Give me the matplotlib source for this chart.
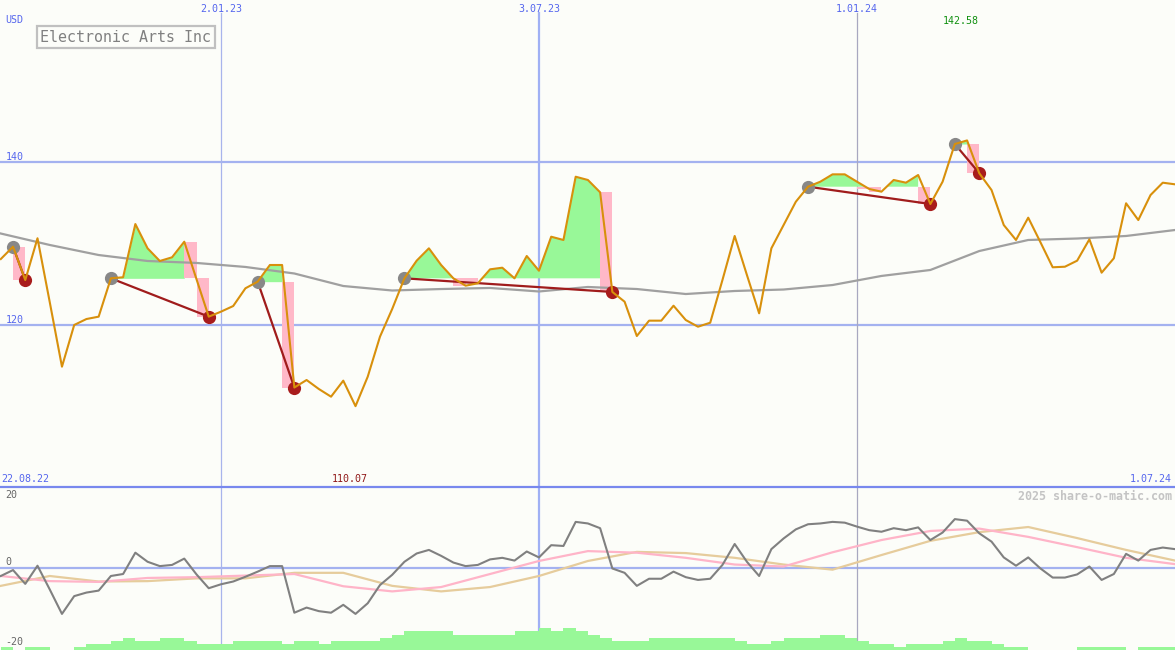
import matplotlib
matplotlib.use("Agg")
import matplotlib.pyplot as plt
import matplotlib.dates as mdates
import matplotlib.transforms as mtransforms
from matplotlib.lines import Line2D
import numpy as np
import pandas as pd

# weekly closes, Electronic Arts, from 29.08.22 to 1.07.24
weeks = pd.date_range("2022-08-29", periods=97, freq="7D")
price = [128.07, 129.58, 125.50, 130.61, 122.81, 114.90, 120.00, 120.73, 121.02, 125.71,
         125.84, 132.35, 129.38, 127.83, 128.28, 130.19, 125.60, 121.02, 121.63, 122.32,
         124.49, 125.30, 127.34, 127.34, 112.35, 113.27, 112.17, 111.23, 113.19, 110.07,
         113.68, 118.57, 121.96, 125.71, 127.87, 129.38, 127.34, 125.71, 124.81, 125.10,
         126.81, 127.01, 125.71, 128.44, 126.64, 130.80, 130.40, 138.14, 137.74, 136.23,
         124.04, 122.85, 118.65, 120.53, 120.53, 122.36, 120.61, 119.79, 120.28, 125.50,
         130.89, 126.12, 121.43, 129.38, 132.23, 135.08, 136.92, 137.53, 138.43, 138.43,
         137.53, 136.64, 136.31, 137.74, 137.41, 138.35, 134.80, 137.53, 142.14, 142.58,
         138.56, 136.51, 132.23, 130.40, 133.13, 130.12, 127.06, 127.13, 127.87, 130.48,
         126.40, 128.16, 134.89, 132.84, 135.90, 137.41, 137.21]

# slow moving average, read every 4th week
ma_weeks = weeks[::4]
ma = [131.19, 129.79, 128.56, 127.83, 127.59, 127.10, 126.30, 124.77, 124.22, 124.40,
      124.53, 124.10, 124.65, 124.40, 123.79, 124.16, 124.34, 124.89, 126.00, 126.73,
      129.05, 130.40, 130.58, 130.89, 131.62]

# lower panel
osc = [-2.1, -0.6, -4.1, 0.5, -5.5, -11.7, -7.2, -6.3, -5.8, -2.1,
       -1.6, 3.8, 1.5, 0.4, 0.7, 2.3, -1.7, -5.2, -4.2, -3.5,
       -2.3, -1.0, 0.4, 0.4, -11.4, -10.1, -11.0, -11.4, -9.4, -11.7,
       -9.0, -4.4, -1.8, 1.5, 3.6, 4.5, 3.0, 1.3, 0.4, 0.7,
       2.1, 2.5, 1.8, 4.1, 2.6, 5.7, 5.5, 11.6, 11.2, 10.0,
       -0.2, -1.3, -4.6, -2.8, -2.8, -1.0, -2.4, -3.1, -2.8, 0.7,
       6.0, 1.5, -2.1, 4.7, 7.4, 9.7, 11.0, 11.2, 11.6, 11.4,
       10.4, 9.5, 9.1, 10.0, 9.5, 10.2, 7.0, 8.9, 12.3, 11.9,
       8.7, 6.6, 2.6, 0.5, 2.6, -0.2, -2.5, -2.5, -1.7, 0.3,
       -3.1, -1.6, 3.5, 1.8, 4.5, 5.1, 4.7]
osc_pink = [-2.1, -3.4, -3.6, -2.6, -2.4, -2.0, -1.6, -4.7, -6.0, -4.9,
            -1.6, 1.7, 4.2, 3.8, 2.5, 0.8, 0.3, 3.9, 7.0, 9.3,
            9.9, 7.8, 5.2, 2.5, 0.9]
osc_tan = [-4.6, -2.1, -3.5, -3.4, -2.7, -2.7, -1.3, -1.3, -4.6, -6.0,
           -4.9, -2.1, 1.7, 4.0, 3.7, 2.5, 0.8, -0.5, 3.2, 6.8,
           9.0, 10.3, 7.5, 4.5, 1.8]
volume = [0.7, 0, 0.7, 0.7, 0, 0, 0.7, 1.5, 1.5, 2.3,
          3.0, 2.3, 2.3, 3.0, 3.0, 2.3, 1.5, 1.5, 1.5, 2.3,
          2.3, 2.3, 2.3, 1.5, 2.3, 2.3, 1.5, 2.3, 2.3, 2.3,
          2.3, 3.0, 3.8, 4.8, 4.8, 4.8, 4.8, 3.8, 3.8, 3.8,
          3.8, 3.8, 4.8, 4.8, 5.6, 4.8, 5.6, 4.8, 3.8, 3.0,
          2.3, 2.3, 2.3, 3.0, 3.0, 3.0, 3.0, 3.0, 3.0, 3.0,
          2.3, 1.5, 1.5, 2.3, 3.0, 3.0, 3.0, 3.8, 3.8, 3.0,
          2.3, 1.5, 1.5, 0.7, 1.5, 1.5, 1.5, 2.3, 3.0, 2.3,
          2.3, 1.5, 0.7, 0.7, 0, 0, 0, 0, 0.7, 0.7,
          0.7, 0.7, 0, 0.7, 0.7, 0.7]

# trades (week numbers, 1 = 29.08.22)
entry_wk = [2, 10, 22, 34, 67, 79]
exit_wk = [3, 18, 25, 51, 77, 81]
green_end_wk = [2, 16, 24, 50, 76, 80]

pink_wk = [3, 17, 18, 25, 39, 40, 51, 72, 73, 77, 81]
pink_top = [129.58, 130.19, 125.71, 125.30, 125.71, 125.71, 136.23, 136.92, 136.92, 136.92, 142.14]
pink_bot = [125.50, 125.71, 121.02, 112.35, 124.81, 125.10, 124.04, 136.64, 136.31, 134.80, 138.56]

vlines = ["2023-01-02", "2023-07-03", "2024-01-01"]
vline_labels = ["2.01.23", "3.07.23", "1.01.24"]

bg = "#fcfdf9"
blue = "#5566ee"
gridc = "#a4b2f0"
mono = "DejaVu Sans Mono"

x = mdates.date2num(weeks)
price = np.array(price)
xl = (x[0] - 0.46, x[-1])

fig = plt.figure(figsize=(11.75, 6.5), dpi=100, facecolor=bg)
ax = fig.add_axes([0, 163 / 650, 1, 487 / 650])
ax2 = fig.add_axes([0, 0, 1, 163 / 650])
for a in (ax, ax2):
    a.set_facecolor(bg)
    a.set_xlim(*xl)
    a.set_xticks([])
    a.set_yticks([])
    for s in a.spines.values():
        s.set_visible(False)

ax.set_ylim(100.18, 159.76)
ax2.set_ylim(-20.84, 20.43)

# grid
for lvl in (120, 140):
    ax.axhline(lvl, color=gridc, lw=1.6, zorder=0)
ax2.axhline(0, color=gridc, lw=1.6, zorder=0)
vstyle = [("#a8b4ec", 0.9), ("#a0b0f4", 1.6), ("#a8a8c0", 0.9)]
for d, lab, (c, w) in zip(vlines, vline_labels, vstyle):
    xd = mdates.date2num(pd.Timestamp(d))
    ax.axvline(xd, ymax=1 - 13 / 487, color=c, lw=w, zorder=0)
    ax2.axvline(xd, color=c, lw=w, zorder=0)
    ax.text(xd, 1 - 9 / 487, lab, transform=ax.get_xaxis_transform(), ha="center", va="center",
            color=blue, fontsize=7.2, family=mono)

# trade fills
for e, g in zip(entry_wk, green_end_wk):
    sl = slice(e - 1, g)
    lvl = price[e - 1]
    ax.fill_between(x[sl], price[sl], lvl, where=price[sl] >= lvl, interpolate=True,
                    color="#98f898", lw=0, zorder=1)
pk = np.array(pink_wk) - 1
ax.bar(x[pk], np.array(pink_top) - np.array(pink_bot), width=-7, bottom=pink_bot, align="edge",
       color="#ffb8c8", lw=0, zorder=1)

ax.plot(mdates.date2num(ma_weeks), ma, color="#a0a0a0", lw=1.6, zorder=2)

for e, q in zip(entry_wk, exit_wk):
    ax.plot([x[e - 1], x[q - 1]], [price[e - 1], price[q - 1]], color="#a01c1c", lw=1.6, zorder=3)
ei = np.array(entry_wk) - 1
qi = np.array(exit_wk) - 1
ax.plot(x[ei], price[ei], "o", color="#888888", ms=9.5, mew=0, zorder=3)
ax.plot(x[qi], price[qi], "o", color="#a81c1c", ms=9.5, mew=0, zorder=3)

ax.plot(x, price, color="#d8900c", lw=1.5, zorder=4)

# labels main panel
ytr = mtransforms.blended_transform_factory(ax.transAxes, ax.transData)
for lvl in (120, 140):
    ax.text(0.005, lvl, str(lvl), transform=ytr, ha="left", va="bottom", color=blue,
            fontsize=7.2, family=mono)
imax = int(np.argmax(price))
imin = int(np.argmin(price))
ax.text(x[imax] - 3.5, 1 - 21 / 487, f"{price[imax]:.2f}", transform=ax.get_xaxis_transform(),
        ha="center", va="center", color="#109010", fontsize=7.2, family=mono)
ax.text(x[imin] - 3.5, 1 - 479 / 487, f"{price[imin]:.2f}", transform=ax.get_xaxis_transform(),
        ha="center", va="center", color="#901818", fontsize=7.2, family=mono)

fig.text(5 / 1175, 1 - 20 / 650, "USD", ha="left", va="center", color=blue, fontsize=7.2, family=mono)
fig.text(1 / 1175, 1 - 479 / 650, "22.08.22", ha="left", va="center", color=blue, fontsize=7.2, family=mono)
fig.text(1172 / 1175, 1 - 479 / 650, "1.07.24", ha="right", va="center", color=blue, fontsize=7.2, family=mono)
fig.text(126 / 1175, 1 - 37 / 650, "Electronic Arts Inc", ha="center", va="center", color="#808080",
         fontsize=10.8, family=mono,
         bbox=dict(boxstyle="square,pad=0.25", facecolor="none", edgecolor="#c0c0c0", lw=1.6))
fig.text(1172 / 1175, 1 - 496 / 650, "2025 share-o-matic.com", ha="right", va="center", color="#c4c4c4",
         fontsize=8.4, family=mono, weight="bold")
for txt, py in (("20", 495), ("0", 562), ("-20", 642)):
    fig.text(5 / 1175, 1 - py / 650, txt, ha="left", va="center", color="#666666", fontsize=7.2, family=mono)

fig.add_artist(Line2D([0, 1], [163 / 650, 163 / 650], transform=fig.transFigure, color="#7888ee", lw=1.6))

# lower panel
ax2.bar(x[:-1], volume, width=7, bottom=-20.84, align="edge", color="#98f898", lw=0, zorder=1)
ax2.plot(mdates.date2num(ma_weeks), osc_tan, color="#e6cc9c", lw=1.6, zorder=2)
ax2.plot(mdates.date2num(ma_weeks), osc_pink, color="#ffb4c8", lw=1.6, zorder=2)
ax2.plot(x, osc, color="#808080", lw=1.5, zorder=3)

fig.savefig("out.png", dpi=100, facecolor=bg)
